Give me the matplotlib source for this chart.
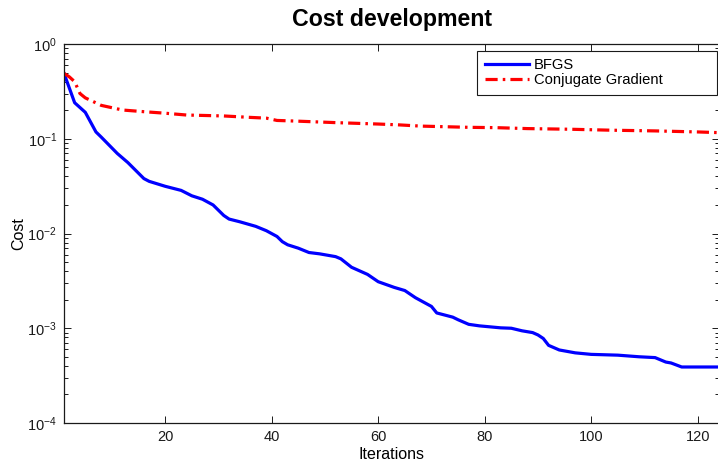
#!/usr/bin/env python3
"""Cost development of BFGS vs. conjugate gradient (semilog plot)."""

import matplotlib

matplotlib.use("Agg")
import matplotlib.pyplot as plt
from matplotlib.ticker import LogLocator, NullFormatter

plt.rcParams["font.family"] = ["Liberation Sans", "DejaVu Sans"]
plt.rcParams["mathtext.fontset"] = "custom"
plt.rcParams["mathtext.rm"] = "Liberation Sans"
plt.rcParams["mathtext.default"] = "regular"

# cost per iteration
bfgs_iter = [1, 3, 5, 7, 8, 11, 13, 16, 17, 20, 23, 25, 27, 29, 31, 32, 34, 37,
             39, 41, 42, 43, 45, 47, 49, 52, 53, 55, 58, 60, 63, 65, 67, 70, 71,
             74, 75, 77, 79, 83, 85, 87, 89, 90, 91, 92, 94, 97, 100, 105, 109,
             112, 114, 115, 117, 124]
bfgs_cost = [0.49, 0.24, 0.19, 0.118, 0.104, 0.070, 0.056, 0.038, 0.0355,
             0.0315, 0.0285, 0.025, 0.023, 0.020, 0.0155, 0.0142, 0.0133,
             0.0119, 0.0107, 0.0093, 0.0082, 0.0076, 0.0070, 0.0063, 0.0061,
             0.0057, 0.0054, 0.0044, 0.0037, 0.0031, 0.0027, 0.0025, 0.0021,
             0.0017, 0.00145, 0.00131, 0.00123, 0.00110, 0.00106, 0.00101,
             0.00100, 0.00094, 0.00090, 0.00085, 0.00078, 0.00066, 0.00059,
             0.00055, 0.00053, 0.00052, 0.00050, 0.00049, 0.00044, 0.00043,
             0.00039, 0.00039]

cg_iter = [1, 2, 3, 4, 5, 8, 12, 16, 20, 24, 31, 36, 39, 41, 44, 52, 60, 64,
           68, 77, 82, 88, 96, 104, 112, 120, 124]
cg_cost = [0.49, 0.45, 0.40, 0.30, 0.27, 0.225, 0.201, 0.193, 0.186, 0.178,
           0.174, 0.168, 0.165, 0.156, 0.154, 0.148, 0.143, 0.140, 0.136,
           0.132, 0.131, 0.128, 0.126, 0.123, 0.121, 0.118, 0.116]

x_ticks = [20, 40, 60, 80, 100, 120]

fig = plt.figure(figsize=(7.18, 4.62), dpi=100)
ax = fig.add_axes([64 / 718, 39 / 462, 655 / 718, 379 / 462])

ax.semilogy(bfgs_iter, bfgs_cost, color="#0000ff", lw=2.3,
            solid_joinstyle="round", label="BFGS")
ax.semilogy(cg_iter, cg_cost, color="#ff0000", lw=2.3,
            dashes=(3.8, 1.6, 0.8, 1.6), dash_capstyle="butt",
            label="Conjugate Gradient")

ax.set_xlim(1, 124)
ax.set_ylim(1e-4, 1)
ax.set_xticks(x_ticks)
ax.yaxis.set_major_locator(LogLocator(base=10, numticks=10))
ax.yaxis.set_minor_locator(LogLocator(base=10, subs=range(2, 10), numticks=50))
ax.yaxis.set_minor_formatter(NullFormatter())

ax.tick_params(which="both", direction="in", top=True, right=True,
               labelsize=10.5, width=0.7, colors="#1a1a1a")
ax.tick_params(which="major", length=5, pad=5)
ax.tick_params(which="minor", length=3)
for spine in ax.spines.values():
    spine.set_linewidth(0.9)
    spine.set_color("#1a1a1a")

ax.set_title("Cost development", fontsize=16.7, fontweight="bold", pad=13)
ax.set_xlabel("Iterations", fontsize=11.5, labelpad=2)
ax.set_ylabel("Cost", fontsize=11.5, labelpad=1)

leg = ax.legend(loc="upper right", bbox_to_anchor=(0.631, 0.87, 0.366, 0.112),
                mode="expand", borderaxespad=0, fontsize=10.6,
                handlelength=3.0, handletextpad=0.35, labelspacing=0.08,
                borderpad=0.5, fancybox=False, framealpha=1)
leg.get_frame().set_edgecolor("#1a1a1a")
leg.get_frame().set_linewidth(0.8)

fig.savefig("out.png", dpi=100)
plt.close(fig)
